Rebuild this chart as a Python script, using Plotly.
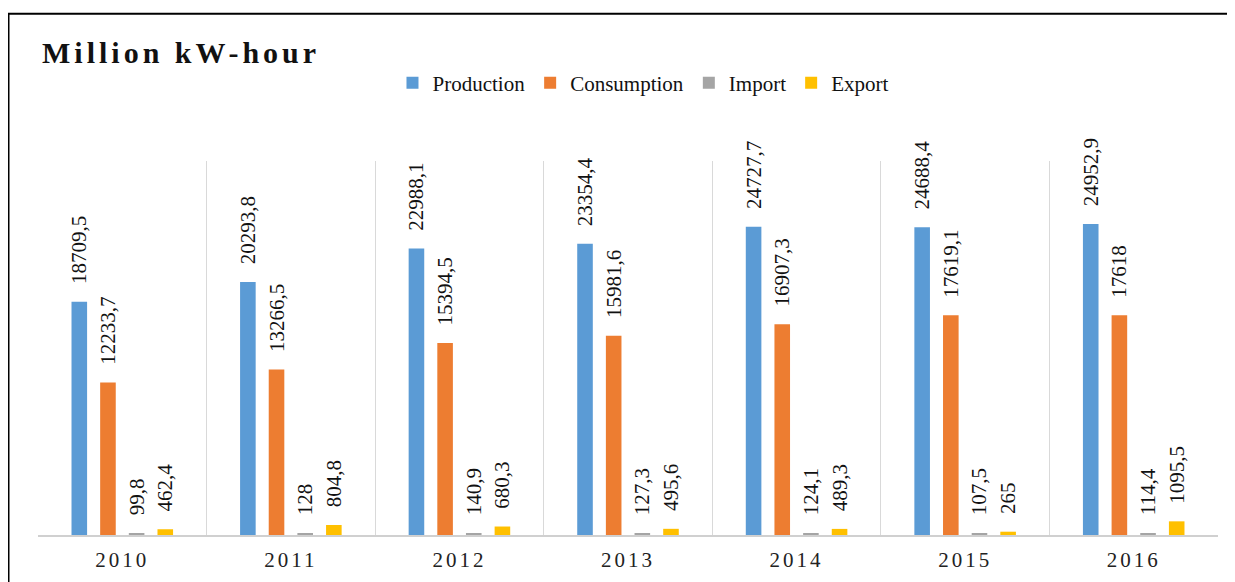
import plotly.graph_objects as go

years = ["2010", "2011", "2012", "2013", "2014", "2015", "2016"]
production = [18709.5, 20293.8, 22988.1, 23354.4, 24727.7, 24688.4, 24952.9]
consumption = [12233.7, 13266.5, 15394.5, 15981.6, 16907.3, 17619.1, 17618]
imports = [99.8, 128, 140.9, 127.3, 124.1, 107.5, 114.4]
exports = [462.4, 804.8, 680.3, 495.6, 489.3, 265, 1095.5]

series = [
    ("Production", production, "#5b9bd5"),
    ("Consumption", consumption, "#ed7d31"),
    ("Import", imports, "#a5a5a5"),
    ("Export", exports, "#ffc000"),
]

FONT = "Liberation Serif"


def fmt(v):
    s = ("%.1f" % v)
    if s.endswith(".0"):
        s = s[:-2]
    return s.replace(".", ",")


fig = go.Figure()
for name, vals, color in series:
    fig.add_trace(go.Bar(
        name=name,
        x=years,
        y=vals,
        marker=dict(color=color, line=dict(width=0)),
        text=["\u00a0\u00a0\u2009" + fmt(v) for v in vals],
        textposition="outside",
        textangle=-90,
        constraintext="none",
        cliponaxis=False,
        textfont=dict(family=FONT, size=21, color="#111111"),
    ))

fig.update_layout(
    width=1235,
    height=582,
    margin=dict(l=30, r=25, t=153, b=55),
    paper_bgcolor="white",
    plot_bgcolor="white",
    barmode="group",
    bargap=0.32,
    bargroupgap=0.456,
    font=dict(family=FONT, color="#111111"),
    legend=dict(
        orientation="h",
        x=0.5127, xanchor="center",
        y=1.2086, yanchor="middle",
        font=dict(family=FONT, size=21, color="#111111"),
        itemwidth=30,
        bgcolor="rgba(0,0,0,0)",
    ),
    xaxis=dict(
        type="category",
        range=[-0.5, 6.5],
        tickson="boundaries",
        showgrid=True,
        gridcolor="#d9d9d9",
        gridwidth=1,
        showline=True,
        linecolor="#d0d0d0",
        linewidth=1.5,
        ticks="",
        ticklabelstandoff=5,
        tickvals=years,
        ticktext=["<span style='letter-spacing:3px'>%s</span>" % y for y in years],
        tickfont=dict(family=FONT, size=21, color="#222222"),
    ),
    yaxis=dict(
        range=[0, 30000],
        showgrid=False,
        showticklabels=False,
        zeroline=False,
        showline=False,
    ),
    annotations=[dict(
        text="<span style='letter-spacing:4px'><b>Million kW-hour</b></span>",
        xref="paper", yref="paper",
        x=0.0017, y=1.2914,
        xanchor="left", yanchor="middle",
        showarrow=False,
        font=dict(family=FONT, size=30, color="#111111"),
    )],
    shapes=[dict(
        type="rect", xref="paper", yref="paper",
        x0=-0.025, x1=1.03, y0=-0.16, y1=1.394,
        line=dict(color="black", width=2),
        fillcolor="rgba(0,0,0,0)",
        layer="above",
    )],
)

fig.write_html("out.html")
